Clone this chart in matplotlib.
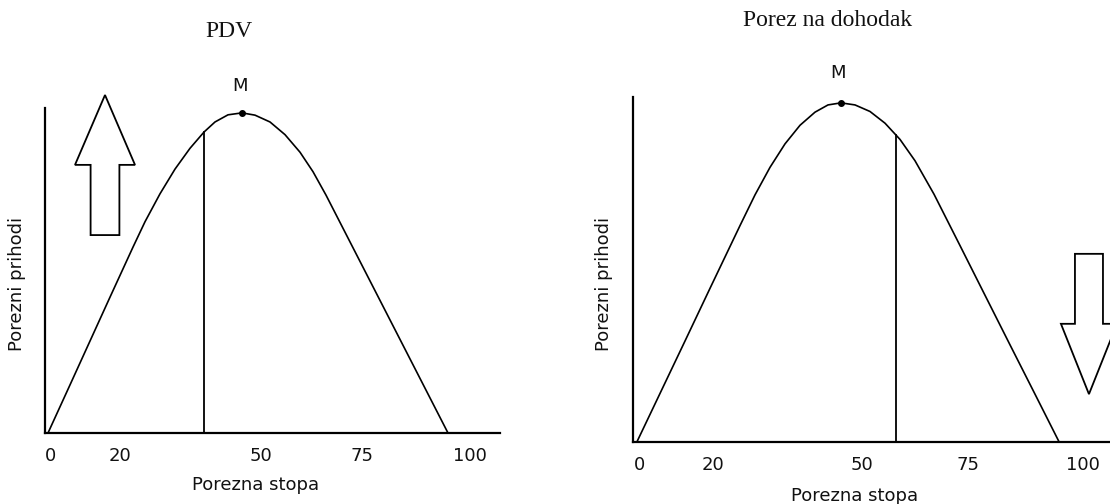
import matplotlib
matplotlib.use("Agg")
import matplotlib.pyplot as plt
from matplotlib.patches import Polygon

# ---------------- data ----------------
# x: tax rate scale (curve meets zero at 0 and 100), y: revenue (axis top = 100)
tick_pos = [0.6, 18.1, 53.3, 78.5, 105.6]
tick_labels = ["0", "20", "50", "75", "100"]

pdv_x = [0, 5.5, 10.5, 15.5, 21.25, 24.25, 28.0, 31.75, 35.5, 39.0, 41.75, 45.0, 48.5,
         51.75, 55.5, 59.25, 63.0, 66.25, 69.5, 75.5, 81.75, 88.0, 94.25, 100]
pdv_y = [0, 14.8, 28.3, 41.8, 57.2, 65.0, 73.6, 81.2, 87.6, 92.6, 95.7, 97.9, 98.5,
         97.8, 95.7, 91.8, 86.4, 80.4, 73.2, 58.8, 43.8, 28.8, 13.8, 0]
pdv_peak = (48.5, 98.5)
pdv_rate = 39.0          # current rate (vertical line), left of the peak
pdv_rate_rev = 92.6

doh_x = [0, 5.45, 11.37, 17.30, 24.41, 27.96, 31.52, 35.07, 38.63, 42.18, 45.26, 48.34,
         51.66, 55.21, 58.77, 62.32, 65.88, 70.38, 76.54, 82.46, 88.39, 94.31, 100]
doh_y = [0, 14.0, 29.2, 44.5, 62.7, 71.6, 79.6, 86.4, 91.8, 95.6, 97.7, 98.3,
         97.7, 95.8, 92.4, 87.7, 81.5, 71.8, 56.9, 42.5, 28.1, 13.8, 0]
doh_peak = (48.34, 98.3)
doh_rate = 61.37         # current rate (vertical line), right of the peak
doh_rate_rev = 89.1

titles = ["PDV", "Porez na dohodak"]
xlabel = "Porezna stopa"
ylabel = "Porezni prihodi"

# ---------------- figure ----------------
W, H = 1110, 504
fig = plt.figure(figsize=(W / 100, H / 100), dpi=100)
fig.patch.set_facecolor("white")

def px_axes(left, right, top, bottom):
    return fig.add_axes([left / W, (H - bottom) / H, (right - left) / W, (bottom - top) / H])

ax1 = px_axes(45, 500, 108, 433)
ax2 = px_axes(633, 1112, 97, 441.7)

def block_arrow(ax, cx, tip_y, head_base_y, end_y, head_half, shaft_half):
    verts = [
        (cx, tip_y),
        (cx + head_half, head_base_y),
        (cx + shaft_half, head_base_y),
        (cx + shaft_half, end_y),
        (cx - shaft_half, end_y),
        (cx - shaft_half, head_base_y),
        (cx - head_half, head_base_y),
    ]
    p = Polygon(verts, closed=True, facecolor="white", edgecolor="black",
                lw=1.3, clip_on=False, zorder=3, joinstyle="miter")
    ax.add_patch(p)

def style(ax, xlim, title, title_xy, label_x):
    ax.set_xlim(*xlim)
    ax.set_ylim(0, 100)
    for s in ["top", "right"]:
        ax.spines[s].set_visible(False)
    for s in ["left", "bottom"]:
        ax.spines[s].set_linewidth(1.6)
        ax.spines[s].set_color("black")
    ax.set_yticks([])
    ax.set_xticks(tick_pos)
    ax.set_xticklabels(tick_labels, fontsize=13, color="#111111")
    ax.tick_params(axis="x", length=0, pad=10)
    ax.set_xlabel(xlabel, fontsize=13, color="#111111")
    ax.xaxis.set_label_coords(label_x, -0.132)
    ax.set_ylabel(ylabel, fontsize=13, color="#111111")
    ax.yaxis.set_label_coords(-0.042, 0.458)
    ax.text(title_xy[0], title_xy[1], title, transform=ax.transAxes,
            ha="center", va="center", fontsize=17, family="Liberation Serif",
            color="#111111")

# Left panel: PDV
ax1.plot(pdv_x, pdv_y, color="black", lw=1.2, solid_joinstyle="round")
ax1.plot([pdv_rate, pdv_rate], [0, pdv_rate_rev], color="black", lw=1.3)
ax1.plot([pdv_peak[0]], [pdv_peak[1]], "o", color="black", ms=4, clip_on=False)
ax1.text(pdv_peak[0] - 0.5, pdv_peak[1] + 8.3, "M", ha="center", va="center",
         fontsize=13, color="#111111")
style(ax1, (-0.75, 113.0), titles[0], (0.404, 1.234), 0.462)
block_arrow(ax1, 14.25, 104.0, 82.5, 60.9, 7.5, 3.6)

# Right panel: Porez na dohodak
ax2.plot(doh_x, doh_y, color="black", lw=1.2, solid_joinstyle="round")
ax2.plot([doh_rate, doh_rate], [0, doh_rate_rev], color="black", lw=1.3)
ax2.plot([doh_peak[0]], [doh_peak[1]], "o", color="black", ms=4, clip_on=False)
ax2.text(doh_peak[0] - 0.7, doh_peak[1] + 8.7, "M", ha="center", va="center",
         fontsize=13, color="#111111")
style(ax2, (-0.95, 112.56), titles[1], (0.407, 1.2205), 0.463)
block_arrow(ax2, 107.1, 13.8, 34.2, 54.5, 6.64, 3.32)

fig.savefig("out.png", dpi=100, facecolor="white")
